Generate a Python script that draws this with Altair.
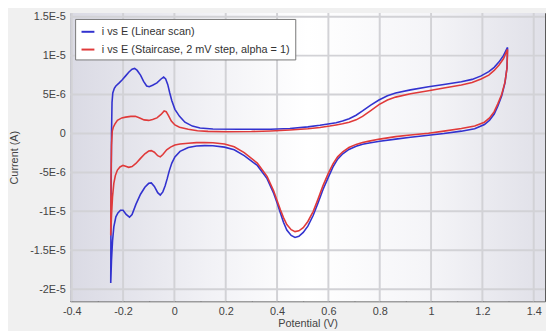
import altair as alt
import pandas as pd

SERIES = ["i vs E (Linear scan)", "i vs E (Staircase, 2 mV step, alpha = 1)"]
COLORS = ["#3232cf", "#e03a3a"]

# Linear scan: potential (V) and current (µA), traced along the loop
blue_E = [-0.248, -0.247, -0.245, -0.243, -0.240, -0.234, -0.228, -0.215, -0.203, -0.19, -0.177, -0.165,
          -0.155, -0.145, -0.132, -0.12, -0.108, -0.098, -0.085, -0.068, -0.052, -0.042, -0.034, -0.026,
          -0.018, -0.010, 0.002, 0.02, 0.041, 0.07, 0.1, 0.15, 0.25, 0.375, 0.45, 0.52, 0.567, 0.605, 0.63,
          0.655, 0.681, 0.708, 0.733, 0.765, 0.797, 0.83, 0.862, 0.92, 0.99, 1.05, 1.118, 1.16, 1.195, 1.225,
          1.246, 1.265, 1.282, 1.298,
          1.296, 1.288, 1.275, 1.26, 1.246, 1.228, 1.208, 1.17, 1.118, 1.05, 0.99, 0.92, 0.862, 0.8, 0.759,
          0.733, 0.708, 0.68, 0.656, 0.636, 0.618, 0.6, 0.579, 0.56, 0.541, 0.52, 0.502, 0.485, 0.47, 0.455,
          0.438, 0.425, 0.413, 0.4, 0.387, 0.361, 0.323, 0.272, 0.233, 0.195, 0.15, 0.118, 0.086, 0.054,
          0.022, 0.002, -0.01, -0.02, -0.028, -0.036, -0.045, -0.055, -0.065, -0.078, -0.09, -0.1, -0.115,
          -0.132, -0.15, -0.165, -0.175, -0.188, -0.2, -0.21, -0.22, -0.228, -0.236, -0.241, -0.245, -0.248]
blue_I = [-19.2, -10.0, 0.0, 4.0, 5.2, 5.8, 6.1, 6.5, 6.9, 7.4, 7.9, 8.25,
          8.35, 8.1, 7.5, 6.7, 6.1, 6.0, 6.2, 6.5, 7.0, 7.25, 7.0, 6.3,
          5.2, 4.2, 3.1, 2.2, 1.45, 0.95, 0.7, 0.58, 0.54, 0.54, 0.65, 0.85, 1.05, 1.26, 1.39,
          1.6, 1.9, 2.35, 2.9, 3.65, 4.3, 4.85, 5.2, 5.6, 6.0, 6.3, 6.65, 6.95, 7.4, 7.95,
          8.5, 9.2, 10.0, 11.06,
          8.5, 6.5, 4.8, 3.5, 2.5, 1.7, 1.15, 0.6, 0.3, 0.0, -0.22, -0.48, -0.72, -1.0, -1.22,
          -1.38, -1.65, -2.05, -2.6, -3.3, -4.3, -5.6, -7.2, -8.9, -10.5, -11.9, -12.7, -13.2, -13.35, -13.1,
          -12.4, -11.4, -10.2, -8.9, -7.7, -5.8, -4.1, -2.85, -2.1, -1.75, -1.58, -1.56, -1.6, -1.8,
          -2.3, -3.0, -3.8, -4.8, -5.8, -6.7, -7.5, -7.9, -7.6, -6.8, -6.35, -6.4, -6.9,
          -7.8, -9.1, -10.4, -10.75, -10.4, -9.85, -9.85, -10.2, -10.7, -12.0, -13.8, -16.2, -19.2]

# Staircase: potential (V) and current (µA)
red_E = [-0.248, -0.247, -0.245, -0.242, -0.238, -0.232, -0.222, -0.205, -0.19, -0.17, -0.152, -0.135,
         -0.118, -0.1, -0.085, -0.068, -0.052, -0.04, -0.032, -0.023, -0.012, 0.002, 0.02, 0.054, 0.09,
         0.131, 0.2, 0.3, 0.375, 0.45, 0.52, 0.567, 0.605, 0.63, 0.655, 0.681, 0.708, 0.733, 0.765, 0.797,
         0.83, 0.862, 0.92, 0.99, 1.05, 1.118, 1.16, 1.195, 1.225, 1.246, 1.265, 1.282, 1.298,
         1.296, 1.288, 1.275, 1.26, 1.246, 1.228, 1.208, 1.17, 1.118, 1.05, 0.99, 0.92, 0.862, 0.8, 0.759,
         0.733, 0.708, 0.68, 0.656, 0.636, 0.618, 0.6, 0.579, 0.56, 0.541, 0.52, 0.502, 0.485, 0.47, 0.455,
         0.438, 0.425, 0.413, 0.4, 0.387, 0.361, 0.323, 0.272, 0.233, 0.195, 0.15, 0.118, 0.086, 0.054,
         0.022, 0.002, -0.015, -0.03, -0.045, -0.055, -0.065, -0.078, -0.09, -0.1, -0.115, -0.132, -0.15,
         -0.165, -0.178, -0.19, -0.2, -0.212, -0.222, -0.23, -0.236, -0.241, -0.245, -0.248]
red_I = [-13.1, -6.0, -1.5, 0.3, 0.8, 1.2, 1.7, 2.0, 2.1, 2.2, 2.2, 2.0,
         1.75, 1.68, 1.8, 2.0, 2.45, 2.9, 2.8, 2.3, 1.6, 1.1, 0.8, 0.54, 0.36,
         0.27, 0.22, 0.25, 0.33, 0.45, 0.6, 0.78, 0.96, 1.1, 1.25, 1.45, 1.75, 2.2, 2.95, 3.7,
         4.3, 4.67, 5.1, 5.5, 5.85, 6.22, 6.55, 7.0, 7.5, 8.1, 8.8, 9.6, 10.8,
         8.4, 6.6, 5.0, 3.8, 2.8, 2.0, 1.45, 0.95, 0.63, 0.3, 0.04, -0.2, -0.4, -0.72, -0.98,
         -1.15, -1.4, -1.8, -2.35, -3.0, -3.9, -5.1, -6.7, -8.4, -10.0, -11.3, -12.1, -12.5, -12.6, -12.35,
         -11.7, -10.8, -9.8, -8.6, -7.4, -5.5, -3.8, -2.45, -1.7, -1.35, -1.18, -1.15, -1.17, -1.26,
         -1.35, -1.48, -1.75, -2.1, -2.7, -3.0, -2.85, -2.4, -2.2, -2.25, -2.6, -3.2, -3.85,
         -4.25, -4.35, -4.2, -4.1, -4.3, -4.7, -5.4, -6.4, -8.1, -10.5, -13.1]

x_major = [-0.4, -0.2, 0, 0.2, 0.4, 0.6, 0.8, 1, 1.2, 1.4]
x_minor = [-0.4, -0.3, -0.2, -0.1, 0, 0.1, 0.2, 0.3, 0.4, 0.5, 0.6, 0.7, 0.8, 0.9, 1.0, 1.1, 1.2, 1.3, 1.4]
y_major = [-2e-5, -1.5e-5, -1e-5, -5e-6, 0, 5e-6, 1e-5, 1.5e-5]
y_minor = [-2.1e-5, -2e-5, -1.9e-5, -1.8e-5, -1.7e-5, -1.6e-5, -1.5e-5, -1.4e-5, -1.3e-5, -1.2e-5, -1.1e-5,
           -1e-5, -9e-6, -8e-6, -7e-6, -6e-6, -5e-6, -4e-6, -3e-6, -2e-6, -1e-6, 0, 1e-6, 2e-6, 3e-6, 4e-6,
           5e-6, 6e-6, 7e-6, 8e-6, 9e-6, 1e-5, 1.1e-5, 1.2e-5, 1.3e-5, 1.4e-5, 1.5e-5]

rows = []
for name, Es, Is in [(SERIES[0], blue_E, blue_I), (SERIES[1], red_E, red_I)]:
    for k, (e, i) in enumerate(zip(Es, Is)):
        rows.append({"series": name, "idx": k, "E": e, "I": i * 1e-6})
df = pd.DataFrame(rows)

W, H = 481, 292
FONT = "Liberation Sans"
AX = "#555555"
xs = alt.Scale(domain=[-0.406, 1.444], nice=False, zero=False)
ys = alt.Scale(domain=[-2.155e-5, 1.547e-5], nice=False, zero=False)

ylabel = ("abs(datum.value) < 1e-12 ? '0' : replace(replace(replace(format(datum.value, '.1e'), "
          "'\u2212', '-'), '.0e', 'e'), 'e', 'E')")

bg = alt.Chart(alt.Data(values=[{}])).mark_rect(
    color=alt.Gradient(
        gradient="linear",
        stops=[alt.GradientStop(color="#dadae4", offset=0),
               alt.GradientStop(color="#f2f2f6", offset=0.3),
               alt.GradientStop(color="#ffffff", offset=0.5),
               alt.GradientStop(color="#f5f5f8", offset=0.75),
               alt.GradientStop(color="#e0e0e8", offset=1)],
        x1=0, x2=1, y1=0, y2=0)
).encode(x=alt.value(0), x2=alt.value(W), y=alt.value(0), y2=alt.value(H))

xgrid = alt.Chart(pd.DataFrame({"v": x_major})).mark_rule(color="#d2d2d6", strokeWidth=2).encode(
    x=alt.X("v:Q", scale=xs, axis=alt.Axis(orient="top", offset=-H, values=x_minor, labels=False,
                                             title=None, domain=False, tickSize=4, tickColor=AX, grid=False))
)
ygrid = alt.Chart(pd.DataFrame({"v": y_major})).mark_rule(color="#d2d2d6", strokeWidth=2).encode(
    y=alt.Y("v:Q", scale=ys, axis=alt.Axis(orient="right", offset=-W, values=y_minor, labels=False,
                                             title=None, domain=False, tickSize=4, tickColor=AX, grid=False))
)

helper = alt.Chart(df).mark_point(opacity=0).encode(
    x=alt.X("E:Q", scale=xs, axis=alt.Axis(orient="bottom", offset=-H, values=x_minor, labels=False,
                                             title=None, domain=True, domainColor=AX, tickSize=4,
                                             tickColor=AX, grid=False)),
    y=alt.Y("I:Q", scale=ys, axis=alt.Axis(orient="left", offset=-W, values=y_minor, labels=False,
                                             title=None, domain=True, domainColor=AX, tickSize=4,
                                             tickColor=AX, grid=False)),
)

lines = alt.Chart(df).mark_line(strokeWidth=1.6).encode(
    x=alt.X("E:Q", scale=xs, axis=alt.Axis(
        orient="bottom", values=x_major, labelExpr="toString(datum.value)", title="Potential (V)",
        grid=False, ticks=False, domain=True, domainColor=AX, labelPadding=4, titlePadding=2,
        labelFont=FONT, labelFontSize=11, labelColor="#444", titleFont=FONT, titleFontSize=11,
        titleFontWeight="normal", titleColor="#444")),
    y=alt.Y("I:Q", scale=ys, axis=alt.Axis(
        orient="left", values=y_major, labelExpr=ylabel, title="Current (A)",
        grid=False, ticks=False, domain=True, domainColor=AX, labelPadding=5, titlePadding=10,
        labelFont=FONT, labelFontSize=11, labelColor="#444", titleFont=FONT, titleFontSize=11,
        titleFontWeight="normal", titleColor="#444")),
    color=alt.Color("series:N", scale=alt.Scale(domain=SERIES, range=COLORS), legend=alt.Legend(
        title=None, orient="none", legendX=5, legendY=6, fillColor="white", strokeColor="#777",
        padding=5, rowPadding=5, symbolType="stroke", symbolStrokeWidth=2, symbolSize=170,
        labelFont=FONT, labelFontSize=11, labelColor="#333", labelOffset=6, labelLimit=400)),
    order=alt.Order("idx:Q"),
)

chart = alt.layer(bg, xgrid, ygrid, helper, lines).resolve_axis(
    x="independent", y="independent"
).properties(width=W, height=H, background="#f0f0f0", padding={"left": 0, "top": 0, "right": 0, "bottom": 0}
).configure_view(stroke=None)

chart.save("out.html", embed_options={"renderer": "svg", "actions": False})
